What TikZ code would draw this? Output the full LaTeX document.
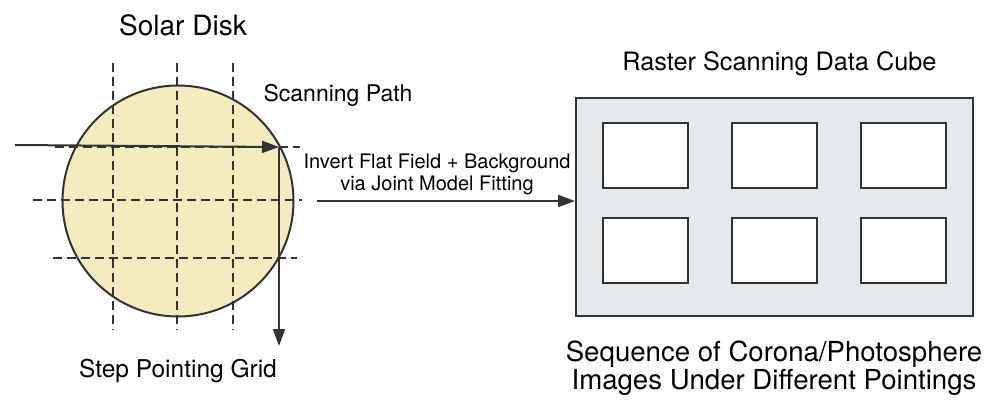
\documentclass[tikz,border=0pt]{standalone}
\usepackage{fontspec}
\setmainfont{TeX Gyre Heros}
\usetikzlibrary{arrows.meta,positioning}
\definecolor{inkgray}{HTML}{333333}
\definecolor{sunfill}{HTML}{F6EABF}
\definecolor{cubefill}{HTML}{E6E9EC}
\tikzset{
  gridline/.style={inkgray,line width=1.5pt,dash pattern=on 9pt off 5pt},
  flow/.style={inkgray,line width=2pt,-{Triangle[length=17pt,width=12pt]}},
  frame/.style={draw=inkgray,line width=2pt,fill=white,minimum width=85pt,minimum height=65pt,inner sep=0pt},
}
\newcommand{\fs}[2]{\fontsize{#1}{#2}\selectfont}
\begin{document}
\begin{tikzpicture}[x=1pt,y=-1pt]
	\useasboundingbox (0,0) rectangle (1003,401);

	%solar disk
	\node[circle,draw=inkgray,line width=2pt,fill=sunfill,minimum size=231pt,inner sep=0pt] (disk) at (178,201) {};

	%step pointing grid
	\foreach \gx in {113,177,233}
		\draw[gridline] (\gx,63) -- (\gx,330);
	\draw[gridline] (55,147) -- (300,147);
	\draw[gridline] (33,200) -- (302,200);
	\draw[gridline] (53,258) -- (297,258);

	%scanning path
	\coordinate (scanstart) at (15,145);
	\coordinate (turn) at (279,147);
	\coordinate (scanend) at (279,346);
	\draw[flow] (scanstart) -- (turn);
	\draw[flow] (turn) -- (scanend);

	%data cube
	\node[draw=inkgray,line width=2pt,fill=cubefill,minimum width=397pt,minimum height=218pt,inner sep=0pt] (cube) at (774.5,207) {};
	\foreach \col/\cx in {1/645.5,2/774.5,3/903.5}
		\foreach \row/\cy in {1/155.5,2/250}
			\node[frame] (img\row\col) at (\cx,\cy) {};

	%fitting arrow
	\draw[flow] ([xshift=22pt]disk.east) -- (disk.east -| cube.west);

	%labels
	\node[anchor=base,font=\fs{28}{32}] (disklabel) at (183,36) {Solar Disk};
	\node[anchor=base,font=\fs{23}{26}] (pathlabel) at (338,102) {Scanning Path};
	\node[anchor=base,font=\fs{24.5}{28}] (gridlabel) at (178,377) {Step Pointing Grid};
	\node[anchor=base,font=\fs{25.3}{28}] (cubelabel) at (779.5,71) {Raster Scanning Data Cube};
	\node[anchor=base,align=center,font=\fs{20}{22}] (fitlabel) at (437,190) {Invert Flat Field + Background\\via Joint Model Fitting};
	\node[anchor=base,align=center,font=\fs{27.6}{28}] (seqlabel) at (774,389) {Sequence of Corona/Photosphere\\Images Under Different Pointings};
\end{tikzpicture}
\end{document}
